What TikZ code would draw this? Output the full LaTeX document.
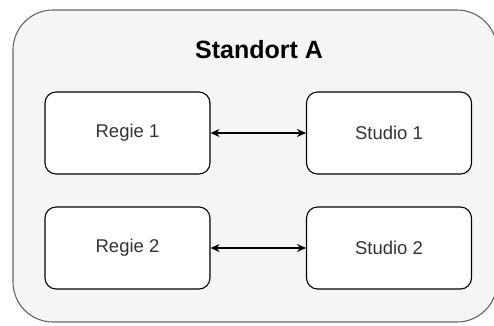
\documentclass[tikz,border=0pt]{standalone}
\usepackage{fontspec}
\setmainfont{Liberation Sans}
\usetikzlibrary{arrows.meta}
\definecolor{outerfill}{HTML}{F5F5F5}
\definecolor{outerline}{HTML}{666666}
\definecolor{boxtext}{HTML}{333333}
\tikzset{
  raum/.style={rectangle, rounded corners=11pt, draw=black, fill=white, line width=1.1pt,
    minimum width=165pt, minimum height=82pt, text=boxtext, font=\fontsize{18.5}{22}\selectfont},
  verbindung/.style={{Stealth[length=9pt,width=8pt]}-{Stealth[length=9pt,width=8pt]}, line width=1.1pt}
}
\begin{document}
\begin{tikzpicture}[x=1pt,y=-1pt]
\useasboundingbox (0,0) rectangle (494,325);
\draw[fill=outerfill, draw=outerline, line width=1.1pt, rounded corners=40pt] (13,10) rectangle (497,322);
\node[font=\bfseries\fontsize{25}{30}\selectfont] (titel) at (259,50) {Standort A};
%
\node[raum] (regie1) at (127.5,133) {Regie 1};
\node[raum] (studio1) at (389,133) {Studio 1};
\draw[verbindung] (regie1) -- (studio1);
%
\node[raum] (regie2) at (127.5,248) {Regie 2};
\node[raum] (studio2) at (389,248) {Studio 2};
\draw[verbindung] (regie2) -- (studio2);
\end{tikzpicture}
\end{document}
